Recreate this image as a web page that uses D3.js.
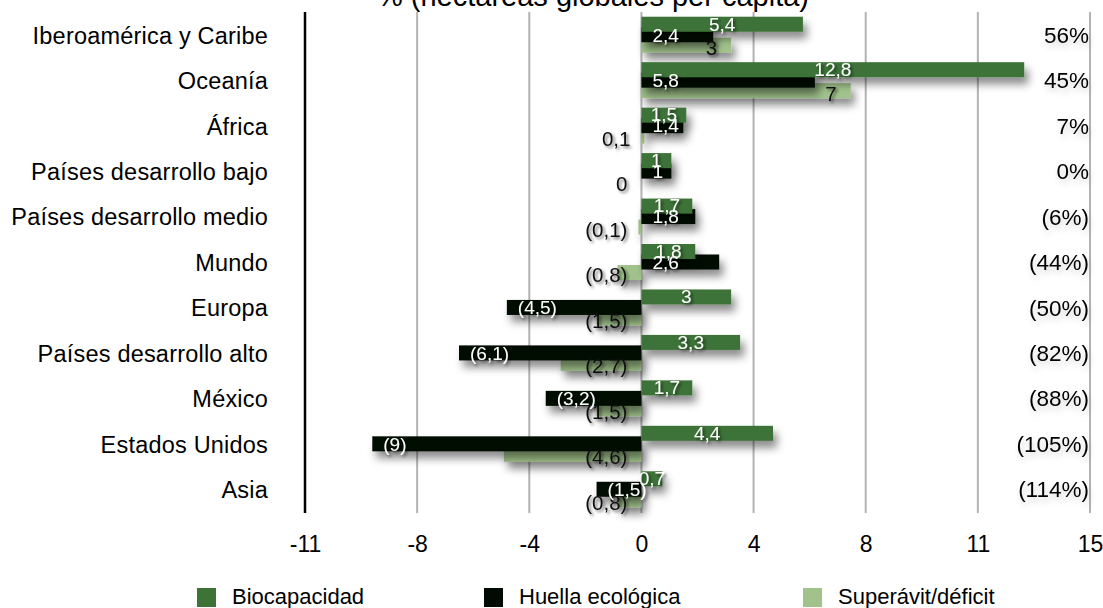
<!DOCTYPE html>
<html>
<head>
<meta charset="utf-8">
<script src="https://cdn.jsdelivr.net/npm/d3@7"></script>
<style>
  html, body { margin: 0; padding: 0; background: #fff; }
  svg { display: block; font-family: "Liberation Sans", Arial, Helvetica, sans-serif; }
</style>
</head>
<body>
<svg id="chart" width="1103" height="608"></svg>
<script>
const categories = ["Iberoamérica y Caribe", "Oceanía", "África", "Países desarrollo bajo",
  "Países desarrollo medio", "Mundo", "Europa", "Países desarrollo alto", "México",
  "Estados Unidos", "Asia"];
const biocapacidad = [5.4, 12.8, 1.5, 1, 1.7, 1.8, 3, 3.3, 1.7, 4.4, 0.7];
const huella = [2.4, 5.8, 1.4, 1, 1.8, 2.6, -4.5, -6.1, -3.2, -9, -1.5];
const superavit = [3, 7, 0.1, 0, -0.1, -0.8, -1.5, -2.7, -1.5, -4.6, -0.8];
const porcentajes = [56, 45, 7, 0, -6, -44, -50, -82, -88, -105, -114];
const tickValues = [-11.25, -7.5, -3.75, 0, 3.75, 7.5, 11.25, 15];
const seriesNames = ["Biocapacidad", "Huella ecológica", "Superávit/déficit"];
const titleText = "% (hectáreas globales per cápita)";

const colors = { bio: "#3e7338", hue: "#020b03", sup: "#a1c38b" };

const svg = d3.select("#chart");
const defs = svg.append("defs");
const sh = defs.append("filter").attr("id", "barShadow")
  .attr("x", "-10%").attr("y", "-60%").attr("width", "130%").attr("height", "260%");
sh.append("feDropShadow").attr("dx", 4).attr("dy", 7).attr("stdDeviation", 4.5)
  .attr("flood-color", "#000").attr("flood-opacity", 0.45);
const ts = defs.append("filter").attr("id", "textShadow")
  .attr("x", "-30%").attr("y", "-40%").attr("width", "160%").attr("height", "180%");
ts.append("feDropShadow").attr("dx", 2).attr("dy", 2).attr("stdDeviation", 1.8)
  .attr("flood-color", "#000").attr("flood-opacity", 0.55);
const ts2 = defs.append("filter").attr("id", "pctShadow")
  .attr("x", "-30%").attr("y", "-40%").attr("width", "160%").attr("height", "200%");
ts2.append("feDropShadow").attr("dx", 2).attr("dy", 4).attr("stdDeviation", 3)
  .attr("flood-color", "#000").attr("flood-opacity", 0.18);

const x = d3.scaleLinear().domain([-11.25, 15]).range([305, 1090]);
const y = d3.scaleBand().domain(categories).range([12, 512]).paddingInner(0).paddingOuter(0);
const cy = c => y(c) + y.bandwidth() / 2;

function fmtNum(v) {
  const s = d3.format(".1~f")(Math.abs(v)).replace(".", ",");
  return v < 0 ? "(" + s + ")" : s;
}
function fmtPct(v) {
  return v < 0 ? "(" + Math.abs(v) + "%)" : v + "%";
}
function tickFmt(v) { return String(Math.sign(v) * Math.round(Math.abs(v))); }

// Title (second line, partially cut off at top)
svg.append("text").attr("x", 593).attr("y", 6).attr("text-anchor", "middle")
  .attr("font-size", 29).attr("fill", "#000").text(titleText);

// Gridlines
const gridG = svg.append("g");
gridG.selectAll("line").data(tickValues.filter(t => t !== -11.25)).join("line")
  .attr("x1", d => x(d)).attr("x2", d => x(d)).attr("y1", 12).attr("y2", 513)
  .attr("stroke", "#b3b3b3").attr("stroke-width", 2);

// X axis tick labels
const xAxis = d3.axisBottom(x).tickValues(tickValues).tickFormat(tickFmt).tickSize(0).tickPadding(0);
const xg = svg.append("g").attr("transform", "translate(0,552)").call(xAxis);
xg.select(".domain").remove();
xg.selectAll("text").attr("font-size", 23).attr("fill", "#000").attr("dy", 0)
  .attr("font-family", "Liberation Sans, Arial, sans-serif");

// Y axis labels
const yAxis = d3.axisLeft(y).tickSize(0).tickPadding(0);
const yg = svg.append("g").attr("transform", "translate(268,0)").call(yAxis);
yg.select(".domain").remove();
yg.selectAll("text").attr("font-size", 23.5).attr("fill", "#000").attr("letter-spacing", 0.2)
  .attr("font-family", "Liberation Sans, Arial, sans-serif").attr("dy", "0.38em");

// Bars
const barH = 15;
const seriesDefs = [
  { key: "sup", vals: superavit, off: 10.5 },
  { key: "hue", vals: huella, off: 0 },
  { key: "bio", vals: biocapacidad, off: -10.5 }
];
seriesDefs.forEach(s => {
  svg.append("g").attr("filter", "url(#barShadow)")
    .selectAll("rect").data(categories).join("rect")
    .attr("x", (c, i) => Math.min(x(0), x(s.vals[i])))
    .attr("width", (c, i) => Math.abs(x(s.vals[i]) - x(0)))
    .attr("y", c => cy(c) + s.off - barH / 2)
    .attr("height", barH)
    .attr("fill", colors[s.key]);
});

// Axis line (left)
svg.append("line").attr("x1", 305).attr("x2", 305).attr("y1", 12).attr("y2", 513)
  .attr("stroke", "#000").attr("stroke-width", 2.5);

// Value labels
const labG = svg.append("g").attr("filter", "url(#textShadow)");
// Superávit labels (dark)
labG.append("g").selectAll("text").data(categories).join("text")
  .attr("x", (c, i) => Math.max(x(0), x(superavit[i])) - 14)
  .attr("y", c => cy(c) + 13).attr("dy", "0.36em")
  .attr("text-anchor", "end").attr("font-size", 20.5).attr("fill", "#111")
  .text((c, i) => fmtNum(superavit[i]));
// Huella labels (white)
labG.append("g").selectAll("text").data(categories).join("text")
  .attr("x", (c, i) => Math.min(x(0), x(huella[i])) + 11)
  .attr("y", c => cy(c)).attr("dy", "0.36em")
  .attr("text-anchor", "start").attr("font-size", 19).attr("fill", "#fff")
  .text((c, i) => fmtNum(huella[i]));
// Biocapacidad labels (white)
labG.append("g").selectAll("text").data(categories).join("text")
  .attr("x", (c, i) => (x(0) + x(biocapacidad[i])) / 2)
  .attr("y", c => cy(c) - 11).attr("dy", "0.36em")
  .attr("text-anchor", "middle").attr("font-size", 19).attr("fill", "#fff")
  .text((c, i) => fmtNum(biocapacidad[i]));

// Percentages on the right
svg.append("g").attr("filter", "url(#pctShadow)").selectAll("text").data(categories).join("text")
  .attr("x", 1089).attr("y", c => cy(c)).attr("dy", "0.36em")
  .attr("text-anchor", "end").attr("font-size", 22.5).attr("fill", "#000")
  .text((c, i) => fmtPct(porcentajes[i]));

// Legend
const legendX = [197, 484, 803];
const legendColors = [colors.bio, colors.hue, colors.sup];
const lg = svg.append("g").selectAll("g").data(seriesNames).join("g")
  .attr("transform", (d, i) => `translate(${legendX[i]},588)`);
lg.append("rect").attr("width", 19).attr("height", 19).attr("fill", (d, i) => legendColors[i]);
lg.append("text").attr("x", 35).attr("y", 16).attr("font-size", 22).attr("fill", "#000").text(d => d);
</script>
</body>
</html>
